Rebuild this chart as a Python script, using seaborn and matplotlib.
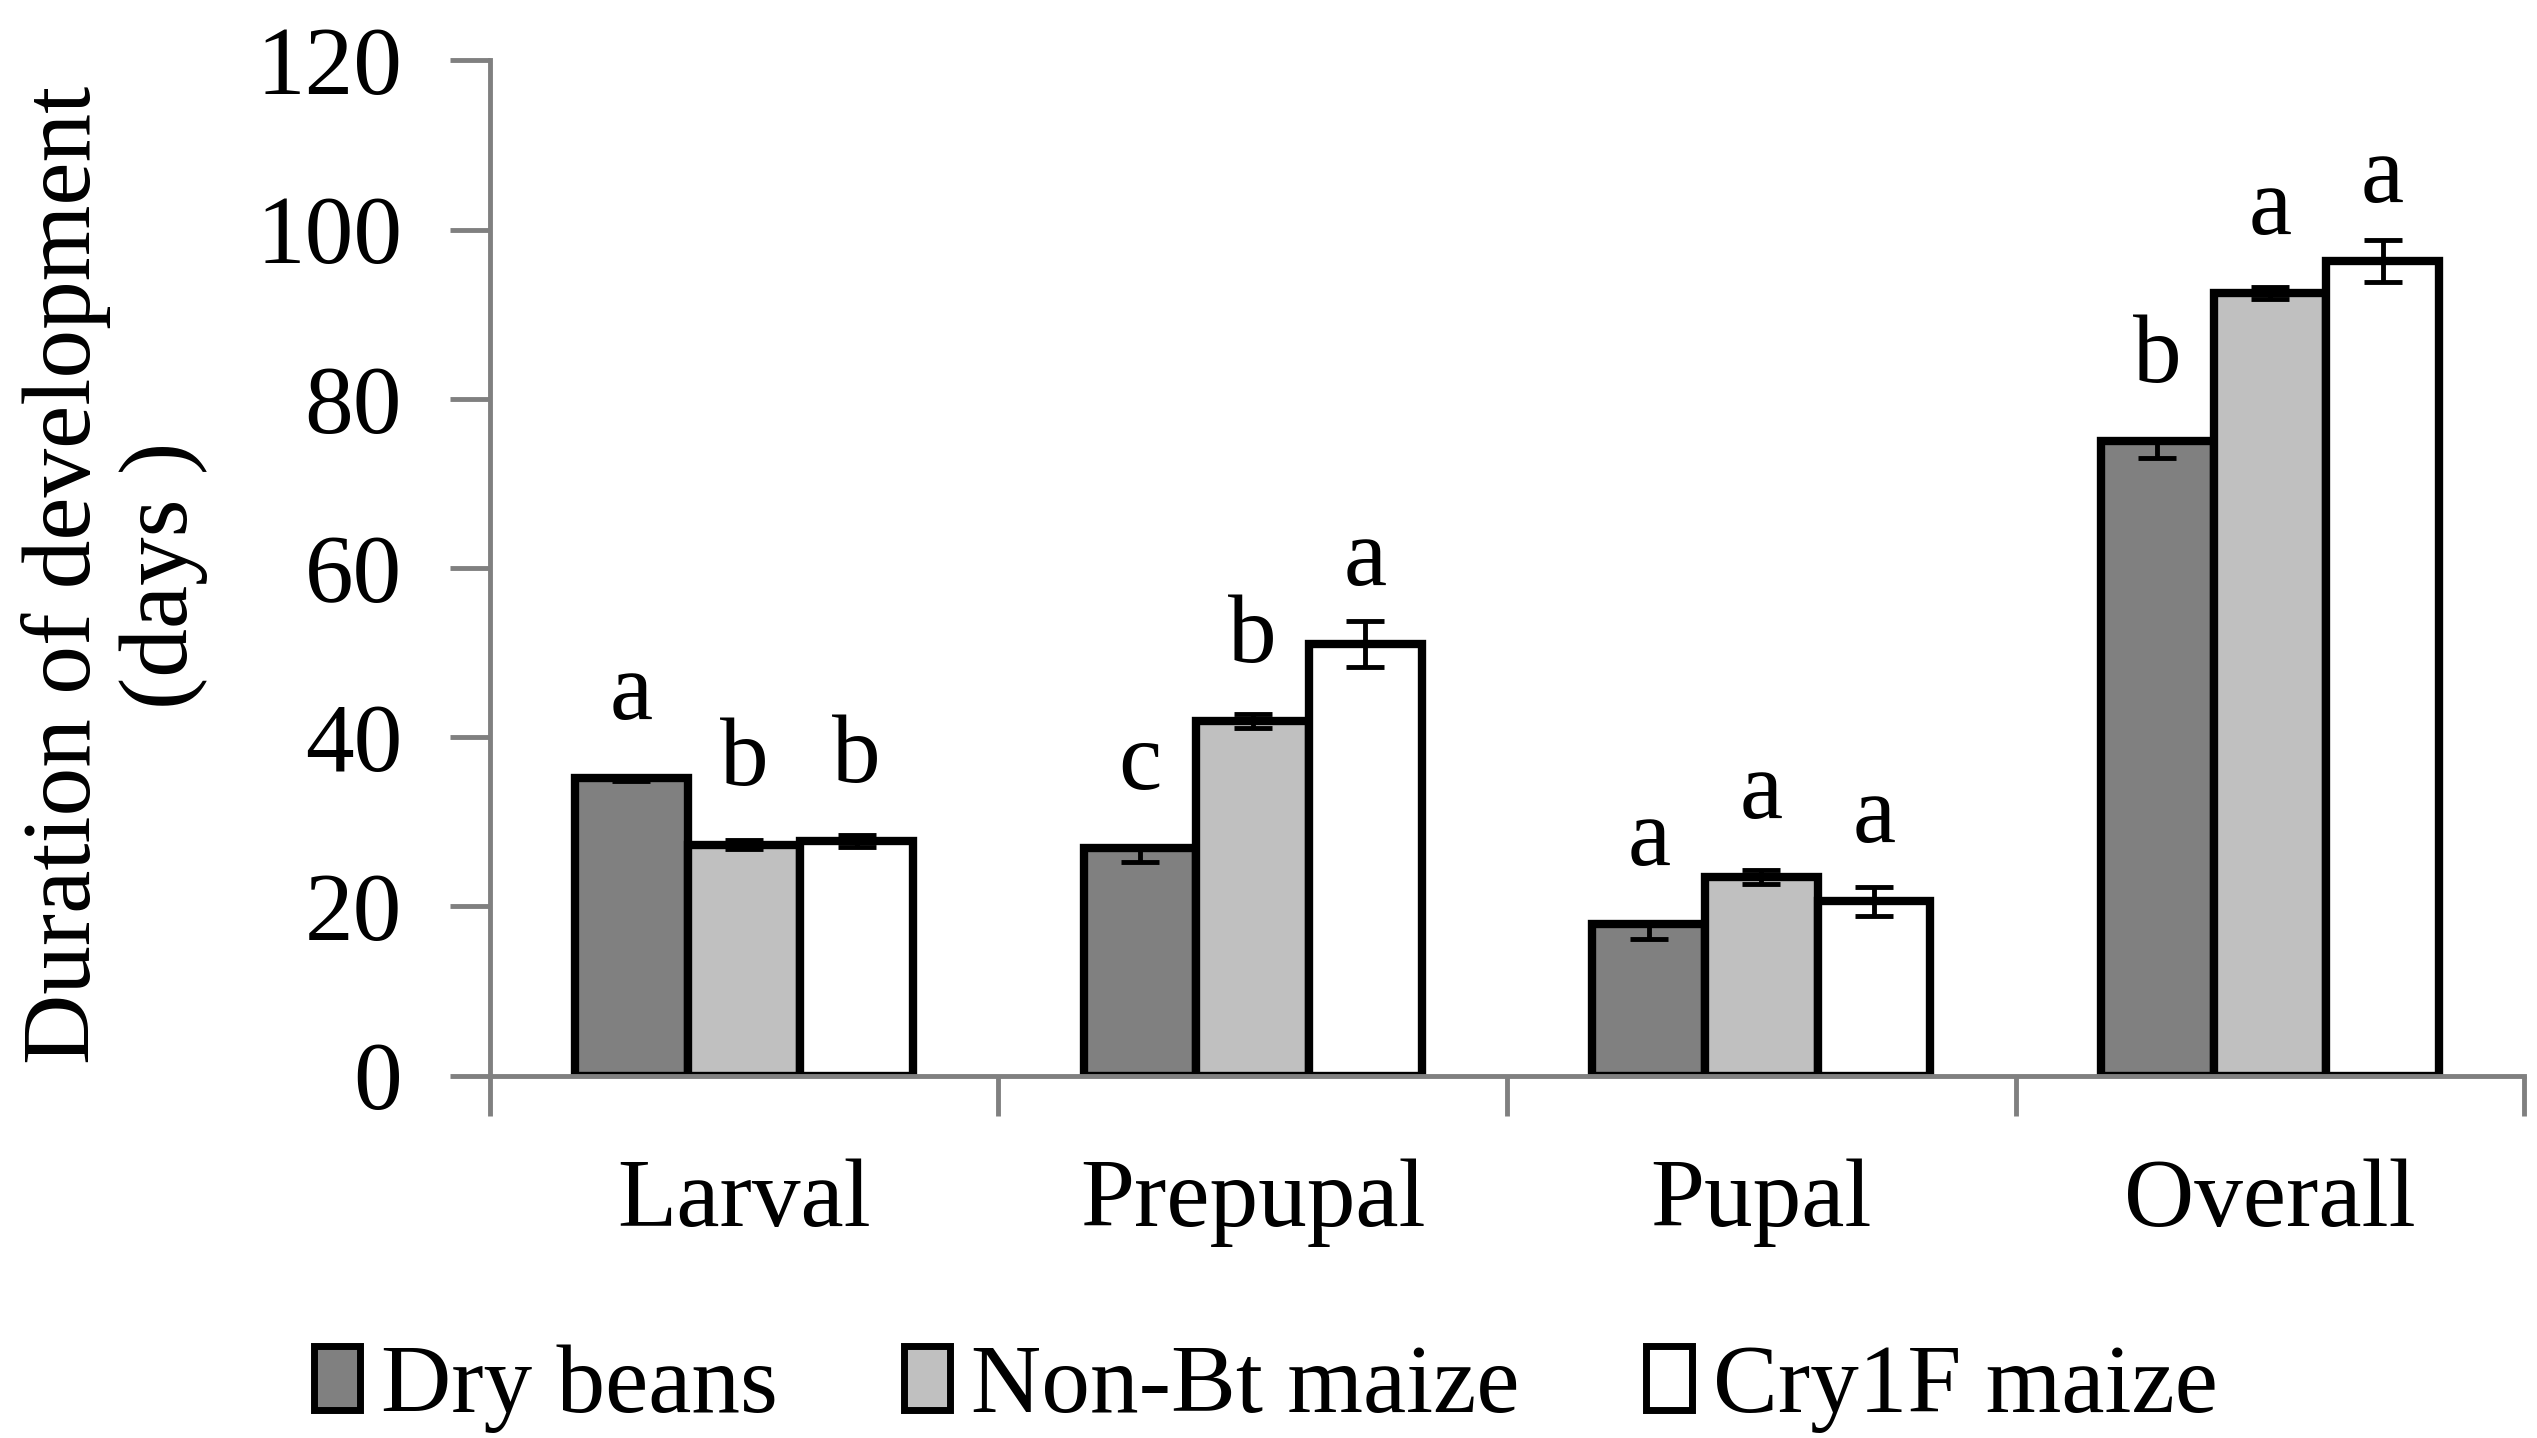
import matplotlib
matplotlib.use("Agg")
import matplotlib.pyplot as plt
from matplotlib.patches import Patch
import numpy as np
import pandas as pd
import seaborn as sns

# data
stages = ["Larval", "Prepupal", "Pupal", "Overall"]
hosts = ["Dry beans", "Non-Bt maize", "Cry1F maize"]
dry_beans = [35.2, 26.9, 17.9, 75.0]
non_bt = [27.3, 41.9, 23.5, 92.5]
cry1f = [27.7, 51.0, 20.6, 96.3]
dry_beans_err = [0.4, 1.6, 1.8, 2.0]
non_bt_err = [0.5, 0.8, 0.8, 0.7]
cry1f_err = [0.7, 2.7, 1.7, 2.5]
dry_beans_sig = ["a", "c", "a", "b"]
non_bt_sig = ["b", "b", "a", "a"]
cry1f_sig = ["b", "a", "a", "a"]

colors = ["#808080", "#C0C0C0", "#FFFFFF"]

df = pd.DataFrame({
    "stage": stages * 3,
    "host": [h for h in hosts for _ in stages],
    "days": dry_beans + non_bt + cry1f,
})

sns.set_style("white")
plt.rcParams["font.family"] = ["Liberation Serif", "DejaVu Serif"]
plt.rcParams["text.color"] = "black"
plt.rcParams["xtick.labelcolor"] = "black"
plt.rcParams["ytick.labelcolor"] = "black"
fs = 70

fig = plt.figure(figsize=(25.37, 14.38), dpi=100)
ax = fig.add_axes([0.193, 0.252, 0.802, 0.706])

sns.barplot(data=df, x="stage", y="days", hue="host", order=stages,
            hue_order=hosts, palette=colors, width=0.664, errorbar=None,
            edgecolor="black", linewidth=6, saturation=1, legend=False, ax=ax)

errs = [dry_beans_err, non_bt_err, cry1f_err]
vals = [dry_beans, non_bt, cry1f]
sigs = [dry_beans_sig, non_bt_sig, cry1f_sig]
bar_groups = list(ax.containers)[:3]
for i, cont in enumerate(bar_groups):
    xs = [b.get_x() + b.get_width() / 2 for b in cont]
    if i == 0:
        yerr = [errs[i], [0] * len(errs[i])]
    else:
        yerr = errs[i]
    ax.errorbar(xs, vals[i], yerr=yerr, fmt="none", ecolor="black",
                elinewidth=3.5, capsize=14, capthick=3.5, zorder=5)
    for x, v, s in zip(xs, vals[i], sigs[i]):
        ax.text(x, v + 7, s, ha="center", va="baseline", fontsize=fs)

ax.set_ylim(0, 120)
ax.set_xlim(-0.5, 3.5)
ax.set_yticks(np.arange(0, 121, 20))
ax.set_xticks(np.arange(-0.5, 3.6, 1))
ax.set_xticklabels([])
ax.set_xticks(range(len(stages)), minor=True)
ax.set_xticklabels(stages, minor=True)
ax.tick_params(axis="x", which="major", direction="out", length=29,
               width=3.5, color="#808080", bottom=True)
ax.tick_params(axis="x", which="minor", length=0, pad=60, labelsize=fs)
ax.tick_params(axis="y", direction="out", length=29, width=3.5,
               color="#808080", left=True, pad=34, labelsize=fs)
ax.set_xlabel("")
ax.set_ylabel("")
for side in ["top", "right"]:
    ax.spines[side].set_visible(False)
for side in ["left", "bottom"]:
    ax.spines[side].set_color("#808080")
    ax.spines[side].set_linewidth(3.5)

fig.text(0.045, 0.6, "Duration of development\n(days )", rotation=90,
         ha="center", va="center", multialignment="center", fontsize=fs,
         linespacing=1.12)

handles = [Patch(facecolor=c, edgecolor="black", linewidth=5) for c in colors]
fig.legend(handles, hosts, loc="center", bbox_to_anchor=(0.499, 0.034),
           ncol=3, frameon=False, fontsize=fs, handlelength=0.47,
           handleheight=0.63, handletextpad=0.22, columnspacing=1.3,
           borderaxespad=0)

fig.savefig("out.png", dpi=100)
